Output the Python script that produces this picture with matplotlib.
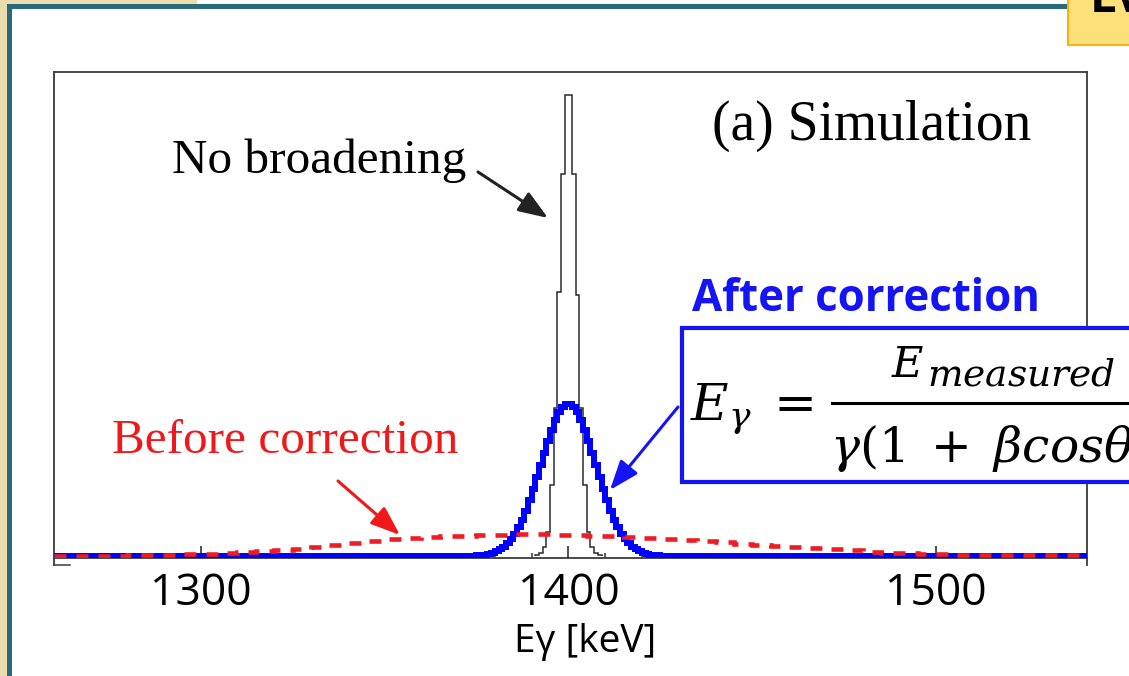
import matplotlib
matplotlib.use('Agg')
import matplotlib.pyplot as plt
import numpy as np
from matplotlib.patches import Rectangle
from matplotlib.lines import Line2D

# ---------------- data (arbitrary counts) ----------------
black_start = 1391          # keV, 1 keV bins
black_counts = [1, 3, 9, 24, 71, 148, 264, 382, 461, 461, 382, 261, 148, 71, 24, 9, 3, 1]

blue_start = 1375           # keV, 1 keV bins
blue_counts = [0.6, 1.0, 1.5, 2.2, 3.3, 4.7, 6.7, 9.3, 12.6, 17, 22, 29, 36.5, 45, 56, 67,
               79, 91, 103, 115, 126, 136, 144, 149, 152, 152, 149, 144, 136, 126, 115,
               103, 91, 79, 67, 56, 45, 36.5, 29, 22, 17, 12.6, 9.3, 6.7, 4.7, 3.3, 2.2,
               1.5, 1.0, 0.6]

red_start = 1280            # keV, 5 keV bins
red_width = 5
red_counts = [1, 1, 1.5, 2, 2.5, 3, 4, 5, 6, 7.5, 9, 11.5, 13.5, 15.5, 17, 18, 19, 20,
              20.5, 21, 21.5, 22, 22, 21.5, 21, 20.5, 20, 19, 18.5, 17.5, 16.5, 15, 14,
              12.5, 11.5, 10.5, 9.5, 8.5, 7.5, 6, 4.5, 3.5, 3, 2.5, 2, 1.5, 1.5, 1,
              1, 1, 1, 1]
floor_level = 0.5

x_ticks = [1300, 1400, 1500]
x_tick_labels = ['1300', '1400', '1500']
x_label = 'Eγ [keV]'
xlim = (1260, 1541)

# ---------------- figure ----------------
W, H, DPI = 1129, 676, 100
plt.rcParams['mathtext.fontset'] = 'dejavuserif'
fig = plt.figure(figsize=(W / DPI, H / DPI), dpi=DPI)
fig.patch.set_facecolor('white')


def fx(px):
    return px / W


def fy(py):
    return 1 - py / H


def rect_px(x0, y0, x1, y1, **kw):
    r = Rectangle((fx(x0), fy(y1)), (x1 - x0) / W, (y1 - y0) / H,
                  transform=fig.transFigure, **kw)
    fig.add_artist(r)
    return r


# slide decoration
rect_px(0, 0, 7, 676, facecolor='#ecdcae', edgecolor='none', zorder=-5)
rect_px(0, 0, 197, 4, facecolor='#ecdcae', edgecolor='none', zorder=-5)
rect_px(7, 4, 12, 676, facecolor='#276b7d', edgecolor='none', zorder=-4)
rect_px(7, 4, 1068, 9, facecolor='#276b7d', edgecolor='none', zorder=-4)
rect_px(1068, -10, 1140, 45, facecolor='#fde07a', edgecolor='#f6b30f', linewidth=1.5, zorder=6)
fig.text(fx(1090), fy(12), 'LV', fontsize=34, fontweight='bold', color='black',
         ha='left', va='baseline', family='Open Sans', zorder=7)

# axes
ax_l, ax_r, ax_t, ax_b = 53.5, 1087, 72, 557.5
ax = fig.add_axes([fx(ax_l), fy(ax_b), (ax_r - ax_l) / W, (ax_b - ax_t) / H])
ax.set_xlim(*xlim)
ax.set_ylim(-1.5, 484)
for s in ax.spines.values():
    s.set_color('#3a3a3a')
    s.set_linewidth(1.3)

# histograms
b_edges = np.arange(black_start, black_start + len(black_counts) + 1)
ax.stairs(black_counts, b_edges, baseline=0, color='#2b2b2b', linewidth=1.1, zorder=2)

bl_edges = np.arange(blue_start, blue_start + len(blue_counts) + 1)
ax.stairs(np.r_[0, blue_counts, 0], np.r_[xlim[0], bl_edges, xlim[1]], baseline=None,
          color='#0000ff', linewidth=4.3, zorder=3)

r_edges = np.arange(red_start, red_start + red_width * len(red_counts) + 1, red_width)
ax.stairs(np.r_[floor_level, red_counts, floor_level], np.r_[xlim[0], r_edges, xlim[1]],
          baseline=None, color='#f01c24', linewidth=3.3, linestyle=(0, (2.6, 2.2)), zorder=4)

# ticks
ax.set_xticks(x_ticks)
ax.set_xticklabels(x_tick_labels, family='Open Sans')
ax.set_xticks(np.arange(1270, 1541, 10), minor=True)
ax.tick_params(axis='x', which='major', direction='in', length=9, width=1.2,
               color='#333333', pad=10, labelsize=32, top=False)
ax.tick_params(axis='x', which='minor', direction='in', length=3.5, width=1.1,
               color='#333333', top=False)
ax.set_yticks([])

# spine extensions below the frame
for xx in (ax_l, ax_r):
    fig.add_artist(Line2D([fx(xx), fx(xx)], [fy(ax_b), fy(565)], transform=fig.transFigure,
                          color='#3a3a3a', linewidth=1.3))
fig.add_artist(Line2D([fx(ax_l), fx(70)], [fy(564.5), fy(564.5)], transform=fig.transFigure,
                      color='#3a3a3a', linewidth=1.1))

fig.text(fx(585), fy(642), x_label, ha='center', va='center', fontsize=28, family='Open Sans')

# annotations
serif = 'Liberation Serif'
fig.text(fx(712), fy(140), '(a) Simulation', fontsize=40, family=serif, ha='left', va='baseline')
fig.text(fx(172), fy(173), 'No broadening', fontsize=35.5, family=serif, ha='left', va='baseline')
fig.text(fx(112), fy(453), 'Before correction', fontsize=35.5, family=serif, color='#f01818',
         ha='left', va='baseline')
fig.text(fx(692), fy(311), 'After correction', fontsize=31.5, family='Open Sans', fontweight='bold',
         color='#1414f5', ha='left', va='baseline')


def arrow(tail, tip, color):
    ax.annotate('', xy=(tip[0], H - tip[1]), xytext=(tail[0], H - tail[1]),
                xycoords='figure pixels', textcoords='figure pixels',
                arrowprops=dict(arrowstyle='-|>,head_length=1.2,head_width=0.45',
                                mutation_scale=15, lw=2.2, color=color,
                                shrinkA=0, shrinkB=0), zorder=6)


arrow((478, 172), (548, 218), '#222222')
arrow((338, 481), (400, 535), '#f01818')
arrow((678, 407), (610, 490), '#1414f5')

# equation box
rect_px(682, 328, 1145, 482, facecolor='white', edgecolor='#1414f5', linewidth=3.0, zorder=8)
fig.text(fx(690), fy(420), r'$E_\gamma$', fontsize=37, ha='left', va='baseline', zorder=9)
fig.text(fx(764), fy(418), r'$=$', fontsize=37, ha='left', va='baseline', zorder=9)
fig.add_artist(Line2D([fx(832), fx(1140)], [fy(403), fy(403)], transform=fig.transFigure,
                      color='black', linewidth=2.2, zorder=9))
fig.text(fx(891), fy(377), r'$E$', fontsize=31, ha='left', va='baseline', zorder=9)
fig.text(fx(927), fy(386), r'$measured$', fontsize=27, ha='left', va='baseline', zorder=9)
fig.text(fx(830), fy(462), r'$\gamma(1\;+\;\beta cos\theta)$', fontsize=35, ha='left',
         va='baseline', zorder=9)

fig.savefig('out.png', dpi=DPI)
